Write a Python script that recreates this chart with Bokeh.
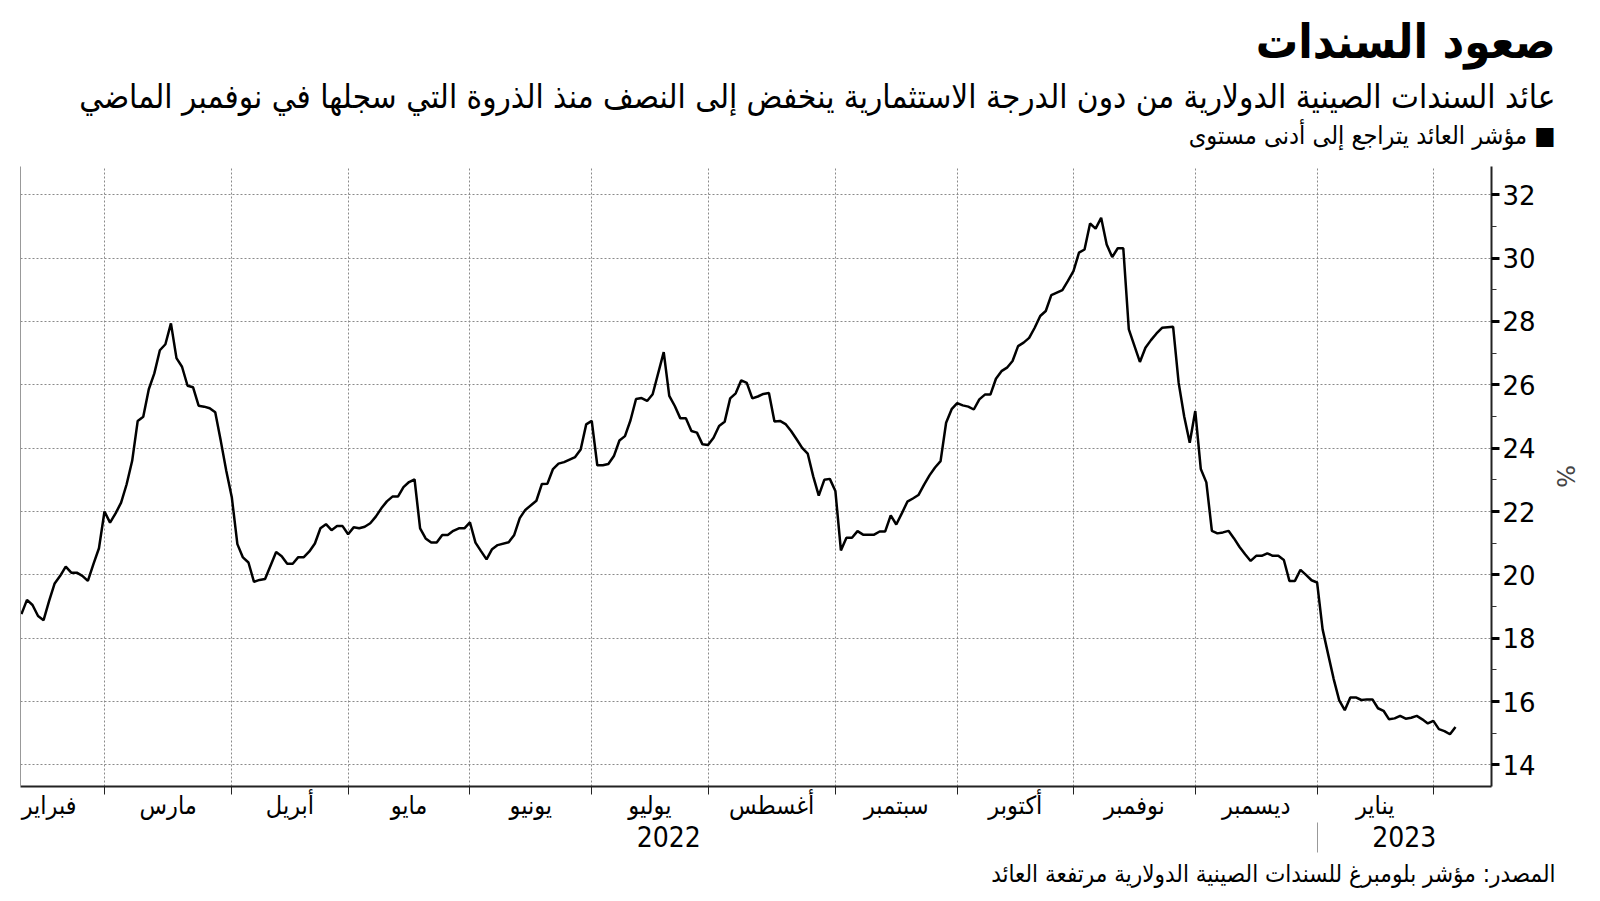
import numpy as np
from bokeh.plotting import figure
from bokeh.models import Range1d, LinearAxis, FixedTicker, Title
from bokeh.embed import file_html
from bokeh.resources import INLINE

# ---------------- data ----------------
dates = [
    "2022-02-08", "2022-02-09", "2022-02-10", "2022-02-11", "2022-02-14", "2022-02-15", "2022-02-16",
    "2022-02-17", "2022-02-18", "2022-02-21", "2022-02-22", "2022-02-23", "2022-02-24", "2022-02-25",
    "2022-02-28", "2022-03-01", "2022-03-02", "2022-03-03", "2022-03-04", "2022-03-07", "2022-03-08",
    "2022-03-09", "2022-03-10", "2022-03-11", "2022-03-14", "2022-03-15", "2022-03-16", "2022-03-17",
    "2022-03-18", "2022-03-21", "2022-03-22", "2022-03-23", "2022-03-24", "2022-03-25", "2022-03-28",
    "2022-03-29", "2022-03-30", "2022-03-31", "2022-04-01", "2022-04-04", "2022-04-05", "2022-04-06",
    "2022-04-07", "2022-04-08", "2022-04-11", "2022-04-13", "2022-04-14", "2022-04-15", "2022-04-18",
    "2022-04-19", "2022-04-20", "2022-04-21", "2022-04-22", "2022-04-25", "2022-04-26", "2022-04-27",
    "2022-04-28", "2022-04-29", "2022-05-02", "2022-05-03", "2022-05-04", "2022-05-05", "2022-05-06",
    "2022-05-09", "2022-05-10", "2022-05-11", "2022-05-12", "2022-05-13", "2022-05-16", "2022-05-17",
    "2022-05-18", "2022-05-19", "2022-05-20", "2022-05-23", "2022-05-24", "2022-05-25", "2022-05-26",
    "2022-05-27", "2022-05-30", "2022-05-31", "2022-06-01", "2022-06-02", "2022-06-03", "2022-06-06",
    "2022-06-07", "2022-06-08", "2022-06-10", "2022-06-13", "2022-06-14", "2022-06-15", "2022-06-17",
    "2022-06-20", "2022-06-21", "2022-06-22", "2022-06-23", "2022-06-24", "2022-06-27", "2022-06-28",
    "2022-06-29", "2022-06-30", "2022-07-01", "2022-07-04", "2022-07-05", "2022-07-06", "2022-07-07",
    "2022-07-08", "2022-07-11", "2022-07-12", "2022-07-13", "2022-07-14", "2022-07-15", "2022-07-18",
    "2022-07-20", "2022-07-21", "2022-07-22", "2022-07-25", "2022-07-26", "2022-07-27", "2022-07-28",
    "2022-07-29", "2022-08-01", "2022-08-02", "2022-08-03", "2022-08-04", "2022-08-05", "2022-08-08",
    "2022-08-09", "2022-08-10", "2022-08-11", "2022-08-12", "2022-08-15", "2022-08-16", "2022-08-17",
    "2022-08-18", "2022-08-19", "2022-08-22", "2022-08-23", "2022-08-24", "2022-08-25", "2022-08-26",
    "2022-08-29", "2022-08-30", "2022-08-31", "2022-09-01", "2022-09-02", "2022-09-05", "2022-09-06",
    "2022-09-07", "2022-09-08", "2022-09-09", "2022-09-12", "2022-09-13", "2022-09-14", "2022-09-15",
    "2022-09-16", "2022-09-19", "2022-09-20", "2022-09-21", "2022-09-22", "2022-09-23", "2022-09-26",
    "2022-09-27", "2022-09-28", "2022-09-29", "2022-09-30", "2022-10-03", "2022-10-04", "2022-10-05",
    "2022-10-06", "2022-10-07", "2022-10-10", "2022-10-11", "2022-10-12", "2022-10-13", "2022-10-14",
    "2022-10-17", "2022-10-18", "2022-10-19", "2022-10-20", "2022-10-21", "2022-10-24", "2022-10-25",
    "2022-10-26", "2022-10-27", "2022-10-28", "2022-10-31", "2022-11-01", "2022-11-02", "2022-11-03",
    "2022-11-04", "2022-11-07", "2022-11-08", "2022-11-09", "2022-11-10", "2022-11-11", "2022-11-14",
    "2022-11-15", "2022-11-17", "2022-11-18", "2022-11-21", "2022-11-22", "2022-11-23", "2022-11-25",
    "2022-11-28", "2022-11-29", "2022-11-30", "2022-12-01", "2022-12-02", "2022-12-05", "2022-12-06",
    "2022-12-07", "2022-12-08", "2022-12-09", "2022-12-12", "2022-12-13", "2022-12-14", "2022-12-15",
    "2022-12-16", "2022-12-19", "2022-12-20", "2022-12-21", "2022-12-22", "2022-12-23", "2022-12-26",
    "2022-12-27", "2022-12-28", "2022-12-29", "2022-12-30", "2023-01-03", "2023-01-04", "2023-01-05",
    "2023-01-06", "2023-01-09", "2023-01-10", "2023-01-11", "2023-01-12", "2023-01-13", "2023-01-16",
    "2023-01-17", "2023-01-18", "2023-01-19", "2023-01-20", "2023-01-23", "2023-01-24", "2023-01-25",
    "2023-01-26", "2023-01-27", "2023-01-30", "2023-01-31", "2023-02-01", "2023-02-02", "2023-02-03",
    "2023-02-06", "2023-02-07",
]

yields = [
    18.76, 19.21, 19.05, 18.70, 18.57, 19.18, 19.73,
    19.97, 20.26, 20.07, 20.07, 19.97, 19.81, 20.34,
    20.84, 22.00, 21.65, 21.94, 22.28, 22.86, 23.60,
    24.86, 24.99, 25.86, 26.36, 27.09, 27.28, 27.94,
    26.84, 26.57, 25.97, 25.92, 25.34, 25.31, 25.26,
    25.13, 24.23, 23.28, 22.44, 20.97, 20.55, 20.39,
    19.78, 19.84, 19.87, 20.72, 20.59, 20.35, 20.35,
    20.56, 20.56, 20.74, 20.99, 21.47, 21.60, 21.41,
    21.54, 21.54, 21.28, 21.50, 21.47, 21.52, 21.63,
    21.84, 22.10, 22.32, 22.47, 22.47, 22.77, 22.93,
    23.01, 21.47, 21.15, 21.02, 21.02, 21.26, 21.26,
    21.39, 21.47, 21.47, 21.66, 21.02, 20.75, 20.49,
    20.81, 20.94, 21.03, 21.26, 21.79, 22.05, 22.34,
    22.87, 22.88, 23.34, 23.51, 23.56, 23.64, 23.72,
    23.96, 24.75, 24.86, 23.46, 23.46, 23.50, 23.75,
    24.24, 24.38, 24.88, 25.55, 25.58, 25.49, 25.70,
    27.03, 25.65, 25.33, 24.94, 24.94, 24.54, 24.49,
    24.12, 24.10, 24.33, 24.70, 24.83, 25.57, 25.73,
    26.14, 26.06, 25.57, 25.63, 25.71, 25.74, 24.84,
    24.86, 24.76, 24.54, 24.28, 24.01, 23.83, 23.11,
    22.50, 23.00, 23.03, 22.65, 20.77, 21.17, 21.17,
    21.38, 21.27, 21.27, 21.27, 21.37, 21.37, 21.88,
    21.59, 21.94, 22.31, 22.41, 22.52, 22.84, 23.14,
    23.39, 23.59, 24.80, 25.23, 25.42, 25.35, 25.31,
    25.22, 25.54, 25.69, 25.69, 26.19, 26.43, 26.54,
    26.75, 27.22, 27.33, 27.48, 27.80, 28.17, 28.33,
    28.83, 28.91, 28.99, 29.28, 29.59, 30.17, 30.27,
    31.09, 30.93, 31.27, 30.43, 30.03, 30.31, 30.31,
    27.75, 26.72, 27.17, 27.41, 27.62, 27.80, 27.83,
    26.06, 25.00, 24.17, 25.17, 23.34, 22.92, 21.39,
    21.31, 21.34, 21.39, 21.15, 20.88, 20.65, 20.44,
    20.60, 20.60, 20.68, 20.60, 20.60, 20.47, 19.81,
    19.81, 20.16, 20.00, 19.83, 19.76, 18.28, 17.49,
    16.71, 16.04, 15.73, 16.13, 16.13, 16.05, 16.07,
    16.07, 15.79, 15.71, 15.44, 15.47, 15.55, 15.46,
    15.49, 15.55, 15.44, 15.31, 15.39, 15.13, 15.07,
    14.97, 15.20,
]

month_bounds = ["2022-02-01", "2022-03-01", "2022-04-01", "2022-05-01", "2022-06-01", "2022-07-01",
                "2022-08-01", "2022-09-01", "2022-10-01", "2022-11-01", "2022-12-01", "2023-01-01",
                "2023-02-01"]
month_names = ["فبراير", "مارس", "أبريل", "مايو", "يونيو", "يوليو", "أغسطس", "سبتمبر",
               "أكتوبر", "نوفمبر", "ديسمبر", "يناير"]
year_names = ["2022", "2023"]
y_ticks = [14, 16, 18, 20, 22, 24, 26, 28, 30, 32]
y_minor = [15, 17, 19, 21, 23, 25, 27, 29, 31]

title_text = "صعود السندات"
subtitle_text = "عائد السندات الصينية الدولارية من دون الدرجة الاستثمارية ينخفض إلى النصف منذ الذروة التي سجلها في نوفمبر الماضي"
legend_text = "مؤشر العائد يتراجع إلى أدنى مستوى"
source_text = "المصدر: مؤشر بلومبرغ للسندات الصينية الدولارية مرتفعة العائد"

# ---------------- business-day x scale ----------------
START = "2022-02-07"
HOLIDAYS = ["2023-01-02"]


def bidx(ds):
    return np.busday_count(START, np.array(ds, dtype="datetime64[D]"), holidays=HOLIDAYS).astype(float)


x = bidx(dates)
mb = bidx(month_bounds)
month_lines = [float(v) for v in mb[1:]]
month_mids = [float((a + b) / 2) for a, b in zip(mb[:-1], mb[1:])]

# ---------------- geometry ----------------
W, H = 1600, 901
FL, FR, FT, FB = 20, 1491, 166, 786
x_start, x_end = 0.83, 266.5
y_start, y_end = 13.32, 32.89

jan_pos = float(mb[11])
year_mids = [(x_start + jan_pos) / 2, (jan_pos + x_end) / 2]

AR = "DejaVu Sans Condensed"
GRID = "#8a8a8a"
RIGHT_SHIFT = -(1555 - FR)   # titles are right-aligned 64 px right of the frame edge

p = figure(width=W, height=H, output_backend="svg", toolbar_location=None, title=None,
           x_range=Range1d(x_start, x_end), y_range=Range1d(y_start, y_end),
           y_axis_location="right",
           min_border_left=FL, min_border_right=W - FR, min_border_top=FT, min_border_bottom=H - FB)
p.outline_line_color = None
p.background_fill_color = "white"
p.border_fill_color = "white"

p.line(x, yields, line_color="black", line_width=2.5)

# right y axis
ya = p.yaxis[0]
ya.ticker = FixedTicker(ticks=y_ticks, minor_ticks=y_minor)
ya.axis_line_color = "#222"
ya.axis_line_width = 2
ya.major_tick_in = 0
ya.major_tick_out = 8
ya.major_tick_line_width = 3
ya.major_tick_line_color = "black"
ya.minor_tick_in = 0
ya.minor_tick_out = 5
ya.minor_tick_line_color = "#333"
ya.major_label_standoff = 3
ya.major_label_text_font = "DejaVu Sans"
ya.major_label_text_font_size = "26px"
ya.major_label_text_color = "black"
ya.axis_label = "%"
ya.axis_label_text_font = "DejaVu Sans"
ya.axis_label_text_font_style = "normal"
ya.axis_label_text_font_size = "24px"
ya.axis_label_standoff = 12

# left thin border line
la = LinearAxis(ticker=FixedTicker(ticks=[]), axis_line_color="#999", axis_line_width=1,
                major_tick_out=0, major_tick_in=0, minor_tick_out=0, minor_tick_in=0,
                major_label_text_font_size="0px")
p.add_layout(la, "left")

# bottom month axis
xa = p.xaxis[0]
xa.ticker = FixedTicker(ticks=month_mids, minor_ticks=month_lines)
xa.major_label_overrides = {m: n for m, n in zip(month_mids, month_names)}
xa.axis_line_color = "#222"
xa.axis_line_width = 2
xa.major_tick_out = 0
xa.major_tick_in = 0
xa.minor_tick_out = 8
xa.minor_tick_in = 0
xa.minor_tick_line_color = "#222"
xa.major_label_standoff = -4
xa.major_label_text_font = AR
xa.major_label_text_font_size = "25px"
xa.major_label_text_color = "black"

# year axis (minor tick = separator before 2023)
yr = LinearAxis(ticker=FixedTicker(ticks=year_mids, minor_ticks=[jan_pos]),
                major_label_overrides={m: n for m, n in zip(year_mids, year_names)},
                axis_line_color=None, major_tick_out=0, major_tick_in=0,
                minor_tick_out=30, minor_tick_in=0, minor_tick_line_color="#999",
                major_label_standoff=-27, major_label_text_font=AR,
                major_label_text_font_size="28px", major_label_text_color="black")
p.add_layout(yr, "below")

# source line
p.add_layout(Title(text=source_text, align="right", offset=RIGHT_SHIFT, standoff=17,
                   text_font=AR, text_font_size="24px", text_font_style="normal",
                   text_color="black"), "below")

# grids
p.xgrid.grid_line_color = None
p.xgrid.minor_grid_line_color = GRID
p.xgrid.minor_grid_line_dash = "2 2"
p.xgrid.minor_grid_line_width = 1
p.ygrid.grid_line_color = GRID
p.ygrid.grid_line_dash = "2 2"
p.ygrid.grid_line_width = 1

# header (first added = closest to the frame): blank spacer, legend, subtitle, title
p.add_layout(Title(text=" ", align="right", standoff=4, text_font=AR,
                   text_font_size="10px", text_color="white"), "above")
p.add_layout(Title(text=legend_text + " ■", align="right", offset=RIGHT_SHIFT, standoff=0,
                   text_font=AR, text_font_size="25px", text_font_style="normal",
                   text_color="black"), "above")
p.add_layout(Title(text=subtitle_text, align="right", offset=RIGHT_SHIFT, standoff=6,
                   text_font=AR, text_font_size="33px", text_font_style="normal",
                   text_color="black"), "above")
p.add_layout(Title(text=title_text, align="right", offset=RIGHT_SHIFT, standoff=6,
                   text_font=AR, text_font_size="47px", text_font_style="bold",
                   text_color="black"), "above")

open("out.html", "w").write(file_html(p, INLINE))
